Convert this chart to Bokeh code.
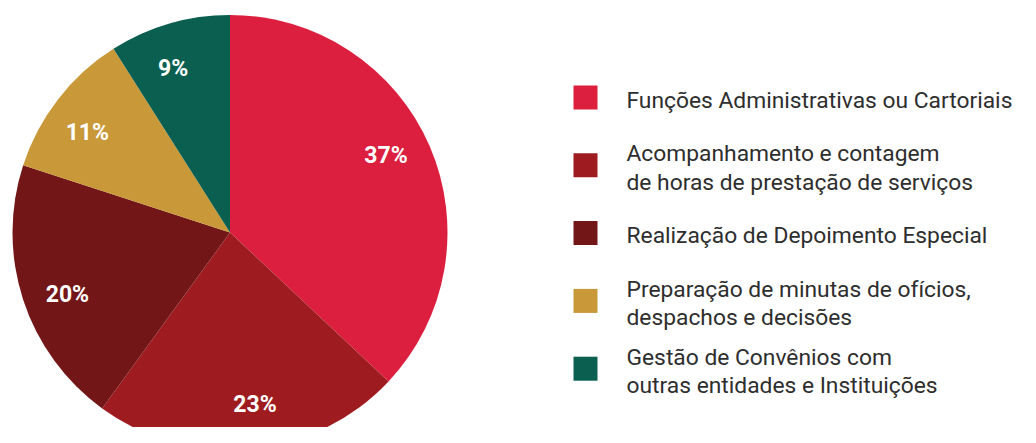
import numpy as np
from bokeh.plotting import figure
from bokeh.models import Range1d, ColumnDataSource
from bokeh.core.properties import value
from bokeh.embed import file_html
from bokeh.resources import INLINE

categories = [
    ["Funções Administrativas ou Cartoriais"],
    ["Acompanhamento e contagem", "de horas de prestação de serviços"],
    ["Realização de Depoimento Especial"],
    ["Preparação de minutas de ofícios,", "despachos e decisões"],
    ["Gestão de Convênios com", "outras entidades e Instituições"],
]
shares = [37, 23, 20, 11, 9]
pct_labels = ["37%", "23%", "20%", "11%", "9%"]
colors = ["#DC1F3E", "#9E1B20", "#731618", "#C99838", "#0A5F50"]

W, H = 1020, 427
p = figure(width=W, height=H, output_backend="svg", toolbar_location=None,
           x_range=Range1d(0, W), y_range=Range1d(0, H),
           min_border=0, outline_line_color=None)
p.axis.visible = False
p.grid.visible = False
p.background_fill_color = "white"
p.border_fill_color = "white"

def sy(y):
    return H - y

cx, cy, R = 229.5, sy(232.0), 217.5
fr = np.array(shares, dtype=float) / sum(shares)
cum = np.concatenate([[0], np.cumsum(fr)])
start = np.pi / 2 - cum[:-1] * 2 * np.pi
end = np.pi / 2 - cum[1:] * 2 * np.pi
src = ColumnDataSource(dict(start=start, end=end, color=colors))
p.wedge(x=cx, y=cy, radius=R, start_angle="start", end_angle="end",
        direction="clock", fill_color="color", line_color=None, source=src)

mid = (start + end) / 2 + 0.05
rl = 0.80 * R
lx = cx + rl * np.cos(mid)
ly = cy + rl * np.sin(mid)
p.text(x=lx, y=ly, text=pct_labels, text_color="white",
       text_font=value("Roboto"), text_font_style="bold", text_font_size="23px",
       text_align="center", text_baseline="middle")

# legend
step = 67.8
sq_x = 585
tx = 626
for i, (lines, col) in enumerate(zip(categories, colors)):
    c = sy(97 + i * step)
    p.rect(x=sq_x, y=c, width=24, height=24, fill_color=col, line_color=None)
    if len(lines) == 1:
        ys = [c - 2.5]
    else:
        ys = [c + 11.5, c - 17]
    p.text(x=[tx] * len(lines), y=ys, text=lines, text_color="#2e2e2e",
           text_font=value("Roboto"), text_font_size="22.8px",
           text_align="left", text_baseline="alphabetic")

open("out.html", "w").write(file_html(p, INLINE))
